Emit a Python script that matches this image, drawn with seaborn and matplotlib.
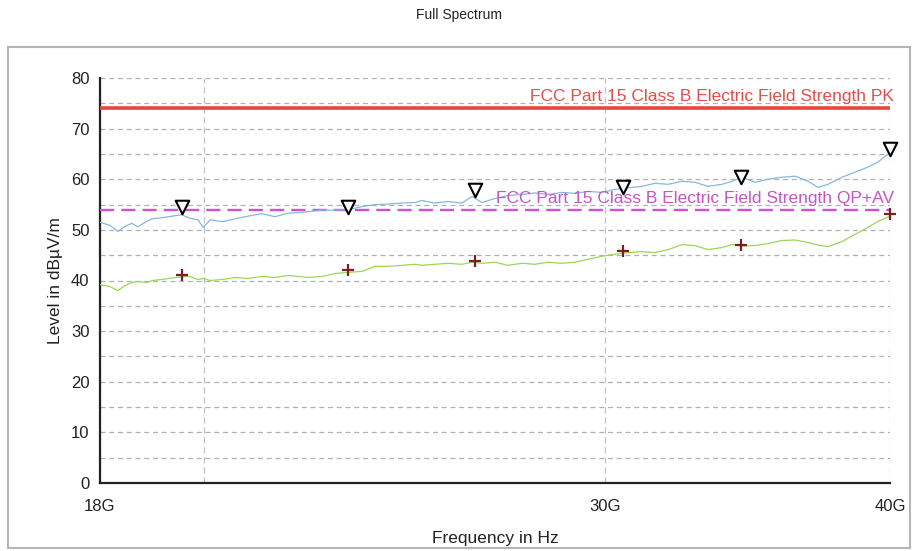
import numpy as np
import pandas as pd
import matplotlib
matplotlib.use("Agg")
import matplotlib.pyplot as plt
from matplotlib.ticker import FixedLocator, MultipleLocator, NullLocator
from matplotlib.patches import Rectangle
import seaborn as sns

# ---------------- data ----------------
freq_ghz = [18.00, 18.18, 18.33, 18.46, 18.59, 18.70, 18.87, 18.98, 19.16, 19.36,
            19.55, 19.71, 19.87, 19.98, 20.12, 20.37, 20.64, 20.90, 21.20, 21.48,
            21.77, 21.99, 22.21, 22.53, 22.83, 23.13, 23.46, 23.77, 24.08, 24.43,
            24.75, 24.92, 25.25, 25.59, 25.95, 26.22, 26.48, 26.83, 27.19, 27.58,
            27.94, 28.31, 28.71, 29.09, 29.48, 29.90, 30.29, 30.69, 31.13, 31.54,
            31.96, 32.42, 32.84, 33.28, 33.75, 34.10, 34.44, 34.90, 35.36, 35.86,
            36.34, 36.82, 37.19, 37.57, 38.11, 38.61, 39.12, 39.52, 40.00]

peak_level = [51.5, 50.9, 49.7, 50.7, 51.3, 50.6, 51.7, 52.2, 52.4, 52.7,
              53.0, 52.3, 52.0, 50.5, 52.0, 51.6, 52.2, 52.7, 53.2, 52.6,
              53.3, 53.4, 53.6, 53.9, 53.9, 54.0, 54.6, 55.0, 55.1, 55.3,
              55.4, 55.8, 55.3, 55.6, 55.3, 56.6, 55.4, 56.2, 56.8, 57.0,
              57.3, 57.0, 57.4, 57.2, 57.6, 57.4, 58.0, 58.3, 58.6, 59.2,
              59.0, 59.6, 59.4, 58.6, 59.0, 59.6, 60.4, 59.4, 60.0, 60.4,
              60.6, 59.6, 58.4, 59.0, 60.4, 61.4, 62.4, 63.4, 65.3]

avg_level = [39.2, 38.8, 38.0, 39.0, 39.6, 39.8, 39.6, 40.0, 40.2, 40.5,
             40.7, 40.8, 40.2, 40.4, 40.0, 40.2, 40.6, 40.4, 40.8, 40.6,
             41.0, 40.8, 40.6, 40.8, 41.4, 41.6, 41.8, 42.8, 42.8, 43.0,
             43.2, 43.0, 43.2, 43.4, 43.2, 43.6, 43.4, 43.6, 43.0, 43.4,
             43.2, 43.6, 43.4, 43.6, 44.2, 44.8, 45.2, 45.5, 45.7, 45.5,
             46.1, 47.1, 46.9, 46.1, 46.5, 47.1, 46.8, 46.9, 47.3, 47.9,
             48.0, 47.5, 47.0, 46.7, 47.7, 49.1, 50.5, 51.7, 52.7]

marker_freq_ghz = [19.56, 23.13, 26.30, 30.54, 34.42, 40.00]
peak_marker_level = [54.5, 54.5, 57.8, 58.4, 60.4, 65.9]
avg_marker_level = [41.0, 42.0, 43.9, 45.9, 47.1, 53.1]

limit_pk = 74.0
limit_qpav = 54.0
limit_pk_label = "FCC Part 15 Class B Electric Field Strength PK"
limit_qpav_label = "FCC Part 15 Class B Electric Field Strength QP+AV"

x_ticks_ghz = [18, 20, 30, 40]
x_tick_labels = ["18G", "", "30G", "40G"]
y_ticks = [0, 10, 20, 30, 40, 50, 60, 70, 80]

title = "Full Spectrum"
x_label = "Frequency in Hz"
y_label = "Level in dB\u00b5V/m"

# ---------------- figure ----------------
sns.set_theme(style="white")
plt.rcParams['font.family'] = ['Liberation Sans', 'DejaVu Sans']

fig = plt.figure(figsize=(9.18, 5.51), dpi=100)
W, H = 918, 551
ax = fig.add_axes([100 / W, 1 - 483 / H, 790 / W, (483 - 78) / H])

# outer frame
fig.patches.append(Rectangle((8 / W, 1 - 548 / H), (910 - 8) / W, (548 - 47) / H,
                             transform=fig.transFigure, fill=False,
                             edgecolor="#b5b5b5", linewidth=1.5, zorder=0))

df = pd.DataFrame({"freq": freq_ghz, "peak": peak_level, "avg": avg_level})
mk = pd.DataFrame({"freq": marker_freq_ghz, "peak": peak_marker_level,
                   "avg": avg_marker_level})

ax.set_xscale("log")
ax.set_xlim(18, 40)
ax.set_ylim(0, 80)

# limits
ax.axhline(limit_pk, color="#e8453c", lw=2.6, zorder=3)
ax.axhline(limit_qpav, color="#d24fd2", lw=1.7, ls=(0, (6, 3)), zorder=3)

sns.lineplot(data=df, x="freq", y="peak", ax=ax, color="#86b8de", lw=0.9,
             zorder=4, estimator=None, sort=False)
sns.lineplot(data=df, x="freq", y="avg", ax=ax, color="#9bd65a", lw=0.9,
             zorder=4, estimator=None, sort=False)

sns.scatterplot(data=mk, x="freq", y="peak", ax=ax, marker="v", s=95,
                facecolor="white", edgecolor="black", linewidth=1.5,
                zorder=6, clip_on=False)
sns.scatterplot(data=mk, x="freq", y="avg", ax=ax, marker="+", s=75,
                color="#7a1f1f", linewidth=1.6, zorder=6, clip_on=False)

ax.text(40.15, limit_pk + 0.8, limit_pk_label, color="#e0504a", fontsize=12.5,
        ha="right", va="bottom", zorder=5)
ax.text(40.15, limit_qpav + 0.8, limit_qpav_label, color="#c655c6", fontsize=12.5,
        ha="right", va="bottom", zorder=5)

# axes styling
ax.xaxis.set_major_locator(FixedLocator(x_ticks_ghz))
ax.set_xticklabels(x_tick_labels)
ax.xaxis.set_minor_locator(NullLocator())
ax.yaxis.set_major_locator(FixedLocator(y_ticks))
ax.yaxis.set_minor_locator(MultipleLocator(5))

for s in ["top", "right"]:
    ax.spines[s].set_visible(False)
for s in ["left", "bottom"]:
    ax.spines[s].set_color("#222222")
    ax.spines[s].set_linewidth(1.6)

ax.tick_params(axis="both", which="both", direction="inout", length=11,
               width=1.6, color="#222222", labelsize=12, labelcolor="#222222")
ax.tick_params(axis="x", pad=6)
ax.tick_params(axis="y", pad=2)

ax.grid(axis="y", which="both", color="#b0b0b0", ls=(0, (4, 3)), lw=0.9)
ax.grid(axis="x", which="major", color="#c4c4c4", ls=(0, (5, 3)), lw=0.9)
ax.set_axisbelow(True)

ax.set_xlabel(x_label, fontsize=12.5, color="#222222", labelpad=12)
ax.set_ylabel(y_label, fontsize=12.5, color="#222222", labelpad=6)
fig.text(459 / W, 1 - 15 / H, title, fontsize=10, ha="center", va="center",
         color="#222222")

fig.savefig("out.png", dpi=100)
